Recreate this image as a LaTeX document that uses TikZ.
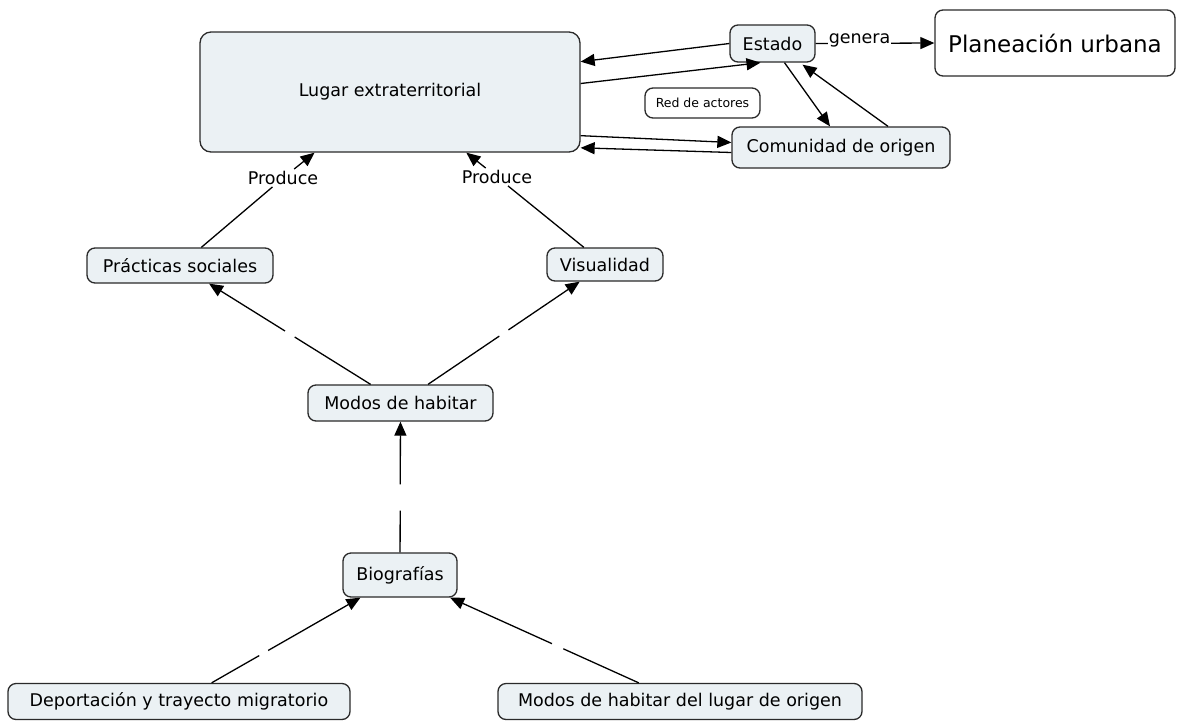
\documentclass[tikz,border=0pt]{standalone}
\usepackage{fontspec}
\setmainfont{DejaVu Sans}
\usetikzlibrary{arrows.meta,calc}
\definecolor{boxfill}{HTML}{EBF1F4}
\definecolor{boxline}{HTML}{2A2A2A}
\begin{document}
\begin{tikzpicture}[x=1pt,y=-1pt,
  concept/.style={draw=boxline,line width=1.3pt,rounded corners=8pt,fill=boxfill,
    font=\fontsize{17.5}{20}\selectfont,align=center,inner sep=0pt},
  plain/.style={concept,fill=white},
  lbl/.style={font=\fontsize{17.5}{20}\selectfont,inner sep=2pt,fill=white},
  link/.style={line width=1.3pt,draw=black},
  arr/.style={link,-{Triangle[length=14pt,width=12pt]}}
]
\useasboundingbox (0,0) rectangle (1184,721);

% nodes
\node[concept,minimum width=380pt,minimum height=120pt,rounded corners=11pt] (lugar) at (390,92) {Lugar extraterritorial};
\node[concept,minimum width=85pt,minimum height=37pt] (estado) at (772.5,43.5) {Estado};
\node[plain,minimum width=240pt,minimum height=66pt,font=\fontsize{23}{27}\selectfont] (plan) at (1055,43) {Planeación urbana};
\node[plain,minimum width=115pt,minimum height=30pt,font=\fontsize{12.5}{15}\selectfont] (red) at (702.5,103) {Red de actores};
\node[concept,minimum width=218pt,minimum height=41pt] (comun) at (841,147.5) {Comunidad de origen};
\node[concept,minimum width=186pt,minimum height=35pt] (prac) at (180,265.5) {Prácticas sociales};
\node[concept,minimum width=116pt,minimum height=33pt] (visual) at (605,264.5) {Visualidad};
\node[concept,minimum width=185pt,minimum height=36pt] (modos) at (400.5,403) {Modos de habitar};
\node[concept,minimum width=114pt,minimum height=44pt] (biog) at (400,575) {Biografías};
\node[concept,minimum width=342pt,minimum height=36pt] (deport) at (179,701.5) {Deportación y trayecto migratorio};
\node[concept,minimum width=364pt,minimum height=36pt] (origen) at (680,701.5) {Modos de habitar del lugar de origen};

\node[lbl] (p1) at (283,178) {Produce};
\node[lbl] (p2) at (497,177) {Produce};

% Estado / Lugar / Comunidad
\draw[arr] (estado.west) -- ($(lugar.north east)!0.25!(lugar.south east)$);
\draw[arr] ($(lugar.north east)!0.43!(lugar.south east)$) -- ([xshift=-12pt]estado.south);
\draw[arr] ([xshift=12pt]estado.south) -- ([xshift=-11pt]comun.north);
\draw[arr] ([xshift=47pt]comun.north) -- ([xshift=30pt,yshift=-2pt]estado.south);
\draw[arr] ($(lugar.north east)!0.86!(lugar.south east)$) -- ([yshift=5pt]comun.west);
\draw[arr] ([yshift=-5pt]comun.west) -- ($(lugar.north east)!0.96!(lugar.south east)$);
\draw[arr] (estado.east) -- node[lbl,pos=0.37,yshift=3pt,inner sep=1pt]{genera} (plan.west);

% Produce
\draw[link] (prac) -- (p1);
\draw[arr] (p1) -- (lugar);
\draw[link] (visual) -- (p2);
\draw[arr] (p2) -- (lugar);

% links with gaps
\path (modos) -- (prac) coordinate[pos=0.47] (g1a) coordinate[pos=0.53] (g1b);
\draw[link] (modos) -- (g1a);
\draw[arr] (g1b) -- (prac);
\path (modos) -- (visual) coordinate[pos=0.47] (g2a) coordinate[pos=0.53] (g2b);
\draw[link] (modos) -- (g2a);
\draw[arr] (g2b) -- (visual);
\path (biog) -- (modos) coordinate[pos=0.32] (g3a) coordinate[pos=0.52] (g3b);
\draw[link] (biog) -- (g3a);
\draw[arr] (g3b) -- (modos);
\path (deport) -- (biog) coordinate[pos=0.32] (g4a) coordinate[pos=0.38] (g4b);
\draw[link] (deport) -- (g4a);
\draw[arr] (g4b) -- (biog);
\path (origen) -- (biog) coordinate[pos=0.40] (g5a) coordinate[pos=0.46] (g5b);
\draw[link] (origen) -- (g5a);
\draw[arr] (g5b) -- (biog);
\end{tikzpicture}
\end{document}
